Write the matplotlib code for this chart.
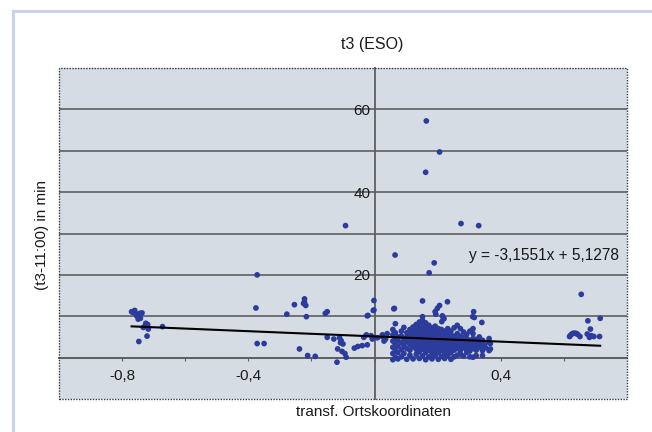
import matplotlib
matplotlib.use('Agg')
import matplotlib.pyplot as plt
from matplotlib.lines import Line2D
from matplotlib.patches import Rectangle
import numpy as np

plt.rcParams['font.family'] = ['Liberation Sans', 'DejaVu Sans']

# ---------------- data ----------------
title = 't3 (ESO)'
x_label = 'transf. Ortskoordinaten'
y_label = '(t3-11:00) in min'
equation_text = 'y = -3,1551x + 5,1278'
trend_slope = -3.1551
trend_intercept = 5.1278

x_ticks = [-0.8, -0.6, -0.4, -0.2, 0.0, 0.2, 0.4, 0.6]
x_tick_labels = ['-0,8', '', '-0,4', '', '', '', '0,4', '']
y_ticks = [0, 10, 20, 30, 40, 50, 60]
y_tick_labels = ['', '', '20', '', '40', '', '60']

# sparse points / outliers
outlier_x = [0.164, 0.206, 0.162, -0.092, 0.274, 0.330, 0.065, 0.189, 0.173, 0.655,
             -0.002, -0.004, -0.023, 0.063, 0.152, 0.231, 0.206, 0.199, 0.192, 0.314,
             0.311, 0.340, 0.218, 0.213, 0.152, 0.194, 0.215, 0.220, 0.316]
outlier_y = [57.2, 49.7, 44.8, 31.9, 32.4, 31.9, 24.8, 22.9, 20.5, 15.3,
             13.8, 11.4, 10.1, 11.9, 13.7, 13.5, 12.6, 11.9, 11.1, 11.1,
             9.9, 8.5, 9.5, 8.7, 9.9, 10.5, 10.1, 9.4, 9.7]

# group at the right edge
right_x = [0.676, 0.715, 0.684, 0.618, 0.625, 0.636, 0.644, 0.651, 0.674, 0.687,
           0.695, 0.713, 0.681, 0.630, 0.640, 0.621]
right_y = [8.9, 9.5, 6.9, 5.1, 5.7, 5.9, 5.6, 5.1, 5.7, 5.3,
           5.1, 5.1, 4.9, 5.9, 5.8, 5.4]

# group at the left edge
left_x = [-0.770, -0.760, -0.754, -0.744, -0.737, -0.749, -0.742, -0.725, -0.721, -0.728,
          -0.717, -0.672, -0.747, -0.721, -0.733, -0.765, -0.752, -0.719]
left_y = [11.1, 11.4, 10.1, 10.7, 10.8, 9.3, 9.5, 8.3, 7.7, 7.5,
          6.9, 7.5, 3.9, 5.2, 7.3, 10.9, 10.5, 8.0]

# points between -0.4 and 0.06
mid_x = [-0.372, -0.376, -0.372, -0.350, -0.278, -0.254, -0.222, -0.225, -0.218, -0.222,
         -0.216, -0.150, -0.156, -0.238, -0.212, -0.188, -0.119, -0.090, -0.150, -0.129,
         -0.111, -0.106, -0.117, -0.103, -0.094, -0.100, -0.064, -0.053, -0.039, -0.023,
         -0.034, -0.026, -0.021, -0.002, 0.009, 0.024, 0.035, 0.061, -0.007, -0.011,
         -0.108, 0.030, 0.040, 0.025]
mid_y = [20.0, 12.0, 3.4, 3.4, 10.5, 12.8, 14.2, 13.1, 12.6, 13.4,
         9.9, 11.1, 10.7, 2.1, 0.5, 0.3, -1.1, 0.1, 4.9, 4.5,
         4.8, 4.1, 2.1, 1.5, 1.0, 3.3, 2.3, 2.7, 2.9, 3.1,
         4.9, 5.5, 10.2, 11.5, 4.8, 5.1, 4.5, 11.8, 4.5, 5.3,
         3.6, 4.0, 5.8, 5.5]

# dense cluster, listed column by column (x of column, y values in it)
cluster_col_x = [0.058, 0.066, 0.074, 0.085, 0.093, 0.102, 0.112, 0.122, 0.132, 0.142,
                 0.147, 0.152, 0.157, 0.162, 0.167, 0.172, 0.177, 0.182, 0.187, 0.192,
                 0.197, 0.202, 0.207, 0.212, 0.217, 0.222, 0.232, 0.242,
                 0.252, 0.262, 0.272, 0.282, 0.292, 0.302, 0.312, 0.322, 0.332, 0.342,
                 0.352, 0.363, 0.367]
cluster_col_y = [
    [-0.5, 1.0, 2.5, 4.0, 5.5, 6.8],
    [0.0, 1.8, 3.2, 4.6, 6.0, 8.2],
    [-0.3, 1.2, 2.8, 4.2, 5.0],
    [0.2, 2.0, 3.6, 5.2, 6.4],
    [7.3, 4.5, 3.0, 1.0],
    [-0.4, 2.2, 3.8, 5.0, 6.0],
    [0.6, 1.8, 3.2, 4.4, 5.6, 6.8],
    [-0.3, 2.6, 3.6, 4.6, 5.4, 6.2, 7.4],
    [0.8, 2.0, 3.0, 4.0, 5.0, 6.0, 7.0, 8.0],
    [-0.2, 1.4, 2.6, 3.4, 4.2, 5.0, 5.8, 6.6, 7.6, 8.6],
    [3.0, 4.0, 5.2, 6.2],
    [0.4, 2.0, 3.0, 3.8, 4.6, 5.4, 6.2, 7.0, 8.0, 9.0],
    [2.8, 4.2, 5.0, 6.0, 7.2],
    [-0.5, 1.2, 2.4, 3.4, 4.2, 5.0, 5.8, 6.6, 7.4, 8.4],
    [3.0, 3.8, 4.8, 5.6, 6.4],
    [0.2, 1.8, 2.8, 3.6, 4.4, 5.2, 6.0, 6.8, 7.8],
    [2.4, 3.2, 4.0, 5.0, 6.2],
    [-0.3, 1.0, 2.2, 3.2, 4.0, 4.8, 5.6, 6.4, 7.2],
    [2.8, 3.8, 4.6, 5.4],
    [0.5, 1.6, 2.6, 3.4, 4.2, 5.0, 5.8, 6.6, 7.6],
    [2.2, 3.2, 4.4, 5.2],
    [-0.4, 1.2, 2.2, 3.0, 3.8, 4.6, 5.4, 6.2, 7.0],
    [2.6, 3.4, 4.2, 5.0],
    [0.3, 1.8, 2.8, 3.6, 4.4, 5.2, 6.0, 6.8],
    [3.0, 4.0, 4.8],
    [-0.2, 1.0, 2.2, 3.2, 4.0, 4.8, 5.6, 6.4],
    [0.5, 1.6, 2.6, 3.4, 4.2, 5.0, 5.8, 7.0],
    [-0.4, 1.2, 2.2, 3.0, 3.8, 4.6, 5.4, 6.4],
    [0.2, 1.8, 2.8, 3.6, 4.4, 5.2, 7.2],
    [0.6, 2.2, 3.2, 4.0, 4.8, 5.8, 7.8],
    [0.9, 1.8, 2.8, 3.6, 4.4, 5.2, 7.0],
    [0.4, 2.4, 3.2, 4.0, 4.8, 6.2],
    [1.3, 2.0, 3.0, 3.8, 4.6, 5.6],
    [0.2, 1.6, 2.6, 3.4, 4.2, 6.4],
    [0.1, 2.2, 3.0, 3.8, 4.6, 5.8, 7.0],
    [0.5, 1.8, 2.8, 3.6, 4.4],
    [2.5, 3.2, 4.0, 5.0],
    [0.5, 1.7, 3.0, 4.2],
    [2.4, 3.6],
    [1.7, 4.6],
    [3.4, 2.1],
]

# ---------------- assemble ----------------
cluster_x = [cx for cx, ys in zip(cluster_col_x, cluster_col_y) for _ in ys]
cluster_y = [y for ys in cluster_col_y for y in ys]
all_x = np.array(outlier_x + right_x + left_x + mid_x + cluster_x)
all_y = np.array(outlier_y + right_y + left_y + mid_y + cluster_y)

# ---------------- figure ----------------
fig = plt.figure(figsize=(6.52, 4.32), dpi=100)
fig.patch.set_facecolor('white')

frame_col = '#c8d2ee'
fig.add_artist(Line2D([13.5 / 652, 13.5 / 652], [0, 1 - 10.5 / 432],
                      transform=fig.transFigure, color=frame_col, lw=2.2))
fig.add_artist(Line2D([13.5 / 652, 1], [1 - 10.5 / 432, 1 - 10.5 / 432],
                      transform=fig.transFigure, color=frame_col, lw=2.2))

ax = fig.add_axes([59 / 652, 33 / 432, 568 / 652, 331 / 432])
ax.set_facecolor('#d5dce4')
ax.set_xlim(-1.0, 0.8)
ax.set_ylim(-10, 70)

grid_col = '#5e5e5e'
for s in ['top', 'right']:
    ax.spines[s].set_visible(False)
ax.spines['left'].set_position(('data', 0))
ax.spines['bottom'].set_position(('data', 0))
for s in ['left', 'bottom']:
    ax.spines[s].set_color(grid_col)
    ax.spines[s].set_linewidth(1.3)
    ax.spines[s].set_zorder(1.5)

ax.add_patch(Rectangle((0, 0), 1, 1, transform=ax.transAxes, fill=False,
                       ec='#3a3a3a', lw=1.0, ls=(0, (1, 1)), clip_on=False, zorder=5))

ax.set_yticks(y_ticks)
ax.set_yticklabels(y_tick_labels)
ax.set_xticks(x_ticks)
ax.set_xticklabels(x_tick_labels)
ax.yaxis.grid(True, color=grid_col, lw=1.2, zorder=1)
ax.set_axisbelow(True)
ax.tick_params(axis='y', length=0, pad=3, labelsize=11, labelcolor='#1a1a1a')
ax.tick_params(axis='x', length=2.5, direction='out', pad=6, labelsize=11,
               labelcolor='#1a1a1a', color=grid_col)

ax.scatter(all_x, all_y, s=17, marker='o', color='#2c3c9c', edgecolors='none', zorder=3)

xs = np.array([all_x.min(), all_x.max()])
ax.plot(xs, trend_slope * xs + trend_intercept, color='black', lw=1.5, zorder=4)

ax.text(0.537, 24.6, equation_text, ha='center', va='center', fontsize=11.2, color='#1a1a1a')

fig.text(372 / 652, 1 - 44 / 432, title, ha='center', va='center', fontsize=11.5, color='#1a1a1a')
fig.text(42 / 652, 1 - 235 / 432, y_label, rotation=90, ha='center', va='center',
         fontsize=11, color='#1a1a1a')
fig.text(373.5 / 652, 1 - 412 / 432, x_label, ha='center', va='center', fontsize=11,
         color='#1a1a1a')

fig.savefig('out.png', dpi=100, facecolor='white')
